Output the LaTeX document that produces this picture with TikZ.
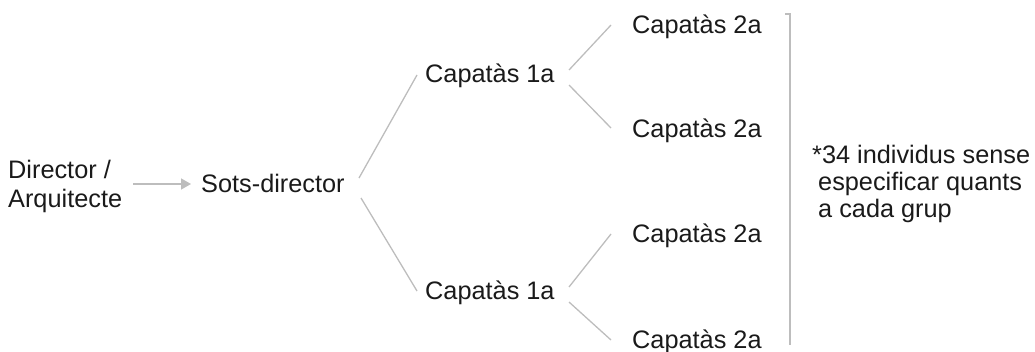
\documentclass[tikz,border=0pt]{standalone}
\usepackage{fontspec}
\setmainfont{Liberation Sans}
\usetikzlibrary{arrows.meta}
\definecolor{linegray}{HTML}{BDBDBD}
\definecolor{txt}{HTML}{1A1A1A}
\begin{document}
\begin{tikzpicture}[x=1pt,y=-1pt,
  lbl/.style={anchor=base west,inner sep=0pt,text=txt,font=\fontsize{25.3}{28}\selectfont},
  conn/.style={draw=linegray,line width=1.3pt},
  arr/.style={draw=linegray,fill=linegray,line width=1.5pt,-{Triangle[length=10pt,width=11pt]}}]
\useasboundingbox (0,0) rectangle (1035,351);
% nodes
\node[lbl,align=left,font=\fontsize{25.3}{29}\selectfont] (dir) at (8,207) {Director /\\Arquitecte};
\node[lbl] (sots) at (201,192) {Sots-director};
\node[lbl] (c1a) at (425,82) {Capatàs 1a};
\node[lbl] (c1b) at (425,299) {Capatàs 1a};
\node[lbl] (c2a) at (632,33) {Capatàs 2a};
\node[lbl] (c2b) at (632,137) {Capatàs 2a};
\node[lbl] (c2c) at (632,242) {Capatàs 2a};
\node[lbl] (c2d) at (632,348) {Capatàs 2a};
\node[lbl,align=left,font=\fontsize{25.3}{27}\selectfont] (note) at (812,217) {*34 individus sense\\\hspace*{6pt}especificar quants\\\hspace*{6pt}a cada grup};
% connector points
\coordinate (dirE) at (133,184);
\coordinate (sotsW) at (191,184);
\coordinate (sotsU) at (359,178);
\coordinate (sotsD) at (361,198);
\coordinate (c1aW) at (417,75);
\coordinate (c1bW) at (417,291);
\coordinate (c1aU) at (569,70);
\coordinate (c1aD) at (569,85);
\coordinate (c1bU) at (569,287);
\coordinate (c1bD) at (569,302);
\coordinate (c2aW) at (611,25);
\coordinate (c2bW) at (611,128);
\coordinate (c2cW) at (611,234);
\coordinate (c2dW) at (611,340);
\coordinate (brT) at (785,14);
\coordinate (brC) at (790,14);
\coordinate (brB) at (790,345);
% connectors
\draw[arr] (dirE) -- (sotsW);
\draw[conn] (sotsU) -- (c1aW);
\draw[conn] (sotsD) -- (c1bW);
\draw[conn] (c1aU) -- (c2aW);
\draw[conn] (c1aD) -- (c2bW);
\draw[conn] (c1bU) -- (c2cW);
\draw[conn] (c1bD) -- (c2dW);
\draw[conn] (brT) -- (brC) -- (brB);
\end{tikzpicture}
\end{document}
